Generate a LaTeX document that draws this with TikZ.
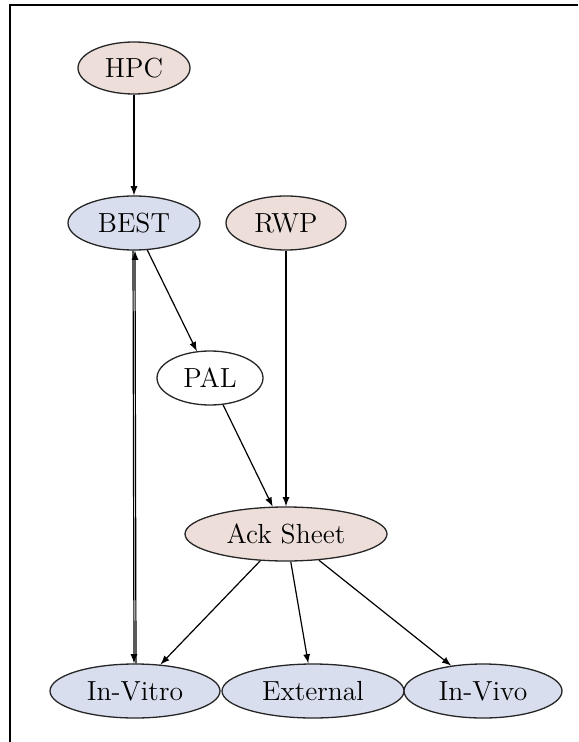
\documentclass[tikz,border=0pt]{standalone}
\usepackage{tikz}
\usetikzlibrary{shapes.geometric}
\definecolor{ackrose}{RGB}{237,222,217}
\definecolor{ackblue}{RGB}{216,222,237}

\begin{document}
\begin{tikzpicture}[x=0.5pt, y=-0.5pt, >=latex, font=\fontsize{13.8}{16}\selectfont,
		knoten/.style={ellipse, draw=black!85, line width=0.65pt, inner sep=0pt},
		rosa/.style={knoten, fill=ackrose},
		blau/.style={knoten, fill=ackblue},
		pfeil/.style={->, line width=0.6pt}]
				%Rahmen
				\useasboundingbox (0,0) rectangle (578,742);
				\draw[line width=1.1pt] (10,742) -- (10,5) -- (578,5);
				% Knoten
				\node[rosa, minimum width=56pt, minimum height=26pt] (hpc) at (134,68) {HPC};
				\node[blau, minimum width=66pt, minimum height=27pt] (best) at (134,223) {BEST};
				\node[rosa, minimum width=60pt, minimum height=27pt] (rwp) at (286,223) {RWP};
				\node[knoten, minimum width=53pt, minimum height=27pt] (pal) at (210,378) {PAL};
				\node[rosa, minimum width=101pt, minimum height=27pt] (ack) at (286,534) {Ack Sheet};
				\node[blau, minimum width=85pt, minimum height=27pt] (vitro) at (135,691) {In-Vitro};
				\node[blau, minimum width=91pt, minimum height=27pt] (extern) at (313,691) {External};
				\node[blau, minimum width=79pt, minimum height=27pt] (vivo) at (483,691) {In-Vivo};
				% Kanten
				\draw[pfeil] (hpc) -- (best);
				\draw[pfeil] (best) -- (pal);
				\draw[pfeil] (pal) -- (ack);
				\draw[pfeil] (rwp) -- (ack);
				\draw[pfeil] ([xshift=-0.5pt]best.south) -- ([xshift=-0.5pt]vitro.north);
				\draw[pfeil] ([xshift=0.5pt]vitro.north) -- ([xshift=0.5pt]best.south);
				\draw[pfeil] (ack) -- (vitro);
				\draw[pfeil] (ack) -- (extern);
				\draw[pfeil] (ack) -- (vivo);
\end{tikzpicture}
\end{document}
